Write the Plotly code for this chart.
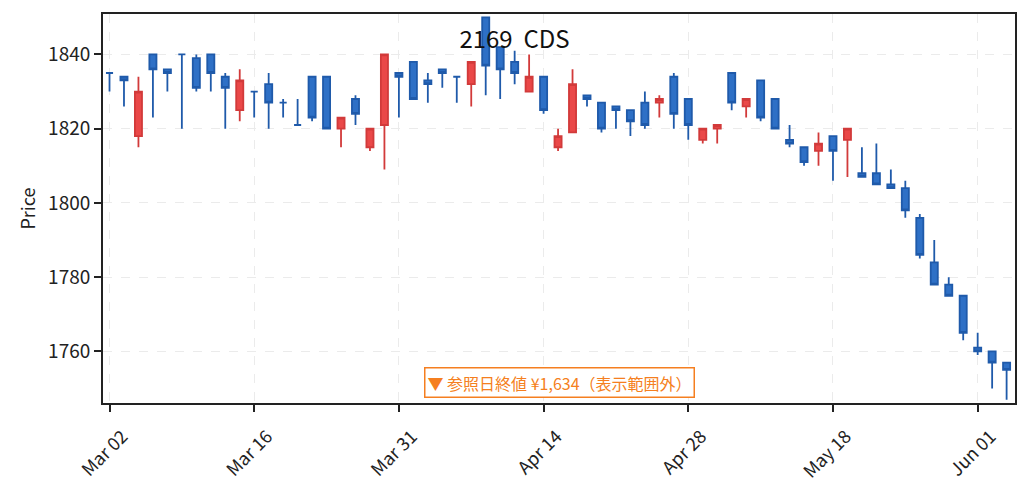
import plotly.graph_objects as go

# trading days (2020, Tokyo calendar)
dates = ['2020-03-02', '2020-03-03', '2020-03-04', '2020-03-05', '2020-03-06',
         '2020-03-09', '2020-03-10', '2020-03-11', '2020-03-12', '2020-03-13',
         '2020-03-16', '2020-03-17', '2020-03-18', '2020-03-19', '2020-03-23',
         '2020-03-24', '2020-03-25', '2020-03-26', '2020-03-27', '2020-03-30',
         '2020-03-31', '2020-04-01', '2020-04-02', '2020-04-03', '2020-04-06',
         '2020-04-07', '2020-04-08', '2020-04-09', '2020-04-10', '2020-04-13',
         '2020-04-14', '2020-04-15', '2020-04-16', '2020-04-17', '2020-04-20',
         '2020-04-21', '2020-04-22', '2020-04-23', '2020-04-24', '2020-04-27',
         '2020-04-28', '2020-04-30', '2020-05-01', '2020-05-07', '2020-05-08',
         '2020-05-11', '2020-05-12', '2020-05-13', '2020-05-14', '2020-05-15',
         '2020-05-18', '2020-05-19', '2020-05-20', '2020-05-21', '2020-05-22',
         '2020-05-25', '2020-05-26', '2020-05-27', '2020-05-28', '2020-05-29',
         '2020-06-01', '2020-06-02', '2020-06-03']

opens = [1835, 1834, 1818, 1840, 1836, 1840, 1839, 1840, 1834, 1825,
         1830, 1832, 1827, 1821, 1834, 1834, 1820, 1828, 1815, 1821,
         1835, 1838, 1833, 1836, 1834, 1832, 1850, 1842, 1838, 1830,
         1834, 1815, 1819, 1829, 1827, 1826, 1825, 1827, 1827, 1834,
         1828, 1817, 1820, 1835, 1826, 1833, 1828, 1817, 1815, 1814,
         1818, 1817, 1808, 1808, 1805, 1804, 1796, 1784, 1778, 1775,
         1761, 1760, 1757]
highs = [1835, 1834, 1834, 1840, 1836, 1840, 1840, 1840, 1835, 1836,
         1830, 1835, 1828, 1828, 1834, 1834, 1823, 1829, 1820, 1840,
         1835, 1838, 1835, 1836, 1834, 1838, 1850, 1842, 1841, 1840,
         1834, 1820, 1836, 1829, 1827, 1826, 1825, 1830, 1829, 1835,
         1828, 1820, 1821, 1835, 1828, 1833, 1828, 1821, 1815, 1819,
         1818, 1820, 1815, 1816, 1809, 1806, 1797, 1790, 1780, 1775,
         1765, 1760, 1757]
lows = [1830, 1826, 1815, 1823, 1830, 1820, 1830, 1830, 1820, 1822,
        1823, 1820, 1823, 1821, 1822, 1820, 1815, 1821, 1814, 1809,
        1823, 1828, 1827, 1831, 1827, 1826, 1829, 1828, 1832, 1830,
        1824, 1814, 1819, 1826, 1819, 1820, 1818, 1820, 1823, 1820,
        1817, 1816, 1816, 1825, 1823, 1822, 1820, 1815, 1810, 1810,
        1806, 1807, 1807, 1805, 1804, 1796, 1785, 1778, 1775, 1763,
        1759, 1750, 1747]
closes = [1835, 1833, 1830, 1836, 1835, 1840, 1831, 1835, 1831, 1833,
          1830, 1827, 1827, 1821, 1823, 1820, 1823, 1824, 1820, 1840,
          1834, 1828, 1832, 1835, 1834, 1838, 1837, 1836, 1835, 1834,
          1825, 1818, 1832, 1828, 1820, 1825, 1822, 1821, 1828, 1824,
          1821, 1820, 1821, 1827, 1828, 1823, 1820, 1816, 1811, 1816,
          1814, 1820, 1807, 1805, 1804, 1798, 1786, 1778, 1775, 1765,
          1760, 1757, 1755]

tick_dates = ['2020-03-02', '2020-03-16', '2020-03-31', '2020-04-14',
              '2020-04-28', '2020-05-18', '2020-06-01']
tick_text = ['Mar 02', 'Mar 16', 'Mar 31', 'Apr 14', 'Apr 28', 'May 18', 'Jun 01']

FONT = 'Noto Sans CJK JP'
RED_FILL, RED_LINE = '#ea4848', '#d23a3a'
BLUE_FILL, BLUE_LINE = '#2e70c6', '#1f5aaa'

fig = go.Figure()

# red = close above open, blue = everything else (dojis included)
groups = [
    ([i for i in range(len(dates)) if closes[i] > opens[i]], RED_FILL, RED_LINE),
    ([i for i in range(len(dates)) if closes[i] <= opens[i]], BLUE_FILL, BLUE_LINE),
]
for idx, fill, line in groups:
    fig.add_trace(go.Candlestick(
        x=[dates[i] for i in idx],
        open=[opens[i] for i in idx],
        high=[highs[i] for i in idx],
        low=[lows[i] for i in idx],
        close=[closes[i] for i in idx],
        increasing=dict(fillcolor=fill, line=dict(color=line, width=1.8)),
        decreasing=dict(fillcolor=fill, line=dict(color=line, width=1.8)),
        whiskerwidth=0,
        showlegend=False,
    ))

fig.add_annotation(
    text='▼ 参照日終値 ¥1,634（表示範囲外）',
    xref='paper', yref='paper', x=0.5, y=0.053,
    xanchor='center', yanchor='middle', showarrow=False,
    font=dict(family=FONT, size=16, color='#f57f20'),
    bgcolor='white', bordercolor='#f57f20', borderwidth=1.5, borderpad=2,
)

# page body keeps an 8px margin, so the figure is 16px smaller than the window
W, H = 1013, 475

fig.update_layout(
    width=W, height=H,
    margin=dict(l=95, r=6, t=6, b=80),
    paper_bgcolor='white', plot_bgcolor='white',
    font=dict(family=FONT, size=19, color='#222'),
    title=dict(text='2169\u00a0\u00a0CDS', x=0.5, xref='container', xanchor='center',
               y=1 - 32 / H, yref='container', yanchor='middle',
               font=dict(family=FONT, size=24, color='#111')),
    xaxis=dict(
        type='category', categoryorder='array', categoryarray=dates,
        range=[-0.45, 62.58], rangeslider=dict(visible=False), automargin=False,
        tickmode='array', tickvals=tick_dates, ticktext=tick_text,
        tickangle=-45, ticks='outside', ticklen=7, tickwidth=1.5, tickcolor='#222',
        tickfont=dict(size=18), ticklabelshift=13, ticklabelstandoff=7,
        showline=True, linecolor='#222', linewidth=1.8, mirror=True,
        showgrid=True, gridcolor='#ebebeb', gridwidth=1.2, griddash='dash',
        zeroline=False,
    ),
    yaxis=dict(
        range=[1746.1, 1850.9], tickvals=[1760, 1780, 1800, 1820, 1840],
        automargin=False,
        ticks='outside', ticklen=7, tickwidth=1.5, tickcolor='#222',
        tickfont=dict(size=19),
        title=dict(text='Price', font=dict(size=18), standoff=8),
        showline=True, linecolor='#222', linewidth=1.8, mirror=True,
        showgrid=True, gridcolor='#ebebeb', gridwidth=1.2, griddash='dash',
        zeroline=False,
    ),
)

fig.write_html("out.html")
